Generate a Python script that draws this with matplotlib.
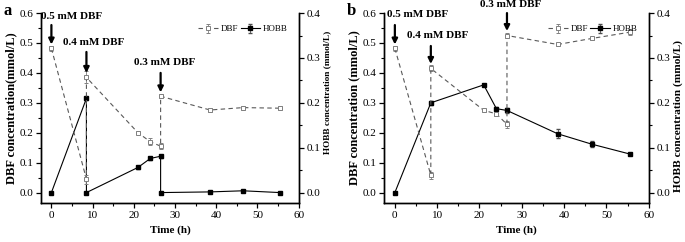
import matplotlib.pyplot as plt
from matplotlib.ticker import MultipleLocator

plt.rcParams['font.family'] = ['Liberation Serif', 'DejaVu Serif']
plt.rcParams['font.size'] = 7.5

# panel a
time_dbf_a = [0, 8.5, 8.5, 21, 24, 26.5, 26.5, 38.5, 46.5, 55.5]
dbf_a = [0.482, 0.045, 0.385, 0.2, 0.17, 0.155, 0.322, 0.276, 0.284, 0.282]
dbf_err_a = [0.008, 0.015, 0.02, 0.005, 0.012, 0.01, 0.006, 0.007, 0.007, 0.006]
time_hobb_a = [0, 8.5, 8.5, 21, 24, 26.5, 26.5, 38.5, 46.5, 55.5]
hobb_a = [0.0, 0.21, 0.0, 0.056, 0.076, 0.081, 0.0, 0.0015, 0.004, 0.0]
hobb_err_a = [0.002, 0.004, 0.002, 0.003, 0.003, 0.003, 0.002, 0.002, 0.002, 0.002]

# panel b
time_dbf_b = [0, 8.5, 8.5, 21, 24, 26.5, 26.5, 38.5, 46.5, 55.5]
dbf_b = [0.482, 0.058, 0.415, 0.275, 0.263, 0.228, 0.525, 0.495, 0.515, 0.536]
dbf_err_b = [0.008, 0.012, 0.01, 0.006, 0.006, 0.012, 0.008, 0.005, 0.005, 0.01]
time_hobb_b = [0, 8.5, 21, 24, 26.5, 38.5, 46.5, 55.5]
hobb_b = [0.0, 0.2, 0.24, 0.187, 0.183, 0.131, 0.108, 0.086]
hobb_err_b = [0.002, 0.004, 0.003, 0.004, 0.006, 0.01, 0.007, 0.003]

doses = ["0.5 mM DBF", "0.4 mM DBF", "0.3 mM DBF"]
dose_times = [0, 8.5, 26.5]
# (text x, text y, arrow start y, arrow end y) per dose
ann_a = [(5, 0.59, 0.56, 0.495), (10.2, 0.503, 0.47, 0.40), (27.4, 0.435, 0.40, 0.335)]
ann_b = [(5.4, 0.594, 0.56, 0.495), (10.1, 0.525, 0.49, 0.43), (27.4, 0.63, 0.60, 0.54)]

fig = plt.figure(figsize=(6.85, 2.42), dpi=100)


def panel(rect, letter, tx, dbf, derr, th, hobb, herr, ann, ylab, rsize, rpos):
    ax = fig.add_axes(rect)
    ax2 = ax.twinx()
    ax.set_zorder(ax2.get_zorder() + 1)
    ax.patch.set_visible(False)
    ax.errorbar(tx, dbf, yerr=derr, color='0.35', ls=(0, (4, 3)), lw=0.8,
                marker='s', ms=3, mfc='white', mec='0.5', mew=0.7,
                ecolor='0.5', elinewidth=0.6, capsize=1.3, label='DBF')
    ax2.errorbar(th, hobb, yerr=herr, color='black', ls='-', lw=0.8,
                 marker='s', ms=3, mfc='black', mec='black',
                 ecolor='0.3', elinewidth=0.6, capsize=1.3, label='HOBB')
    ax.set_xlim(-2.5, 60)
    ax.set_ylim(-0.035, 0.6)
    ax2.set_ylim(-0.0233, 0.4)
    ax.xaxis.set_major_locator(MultipleLocator(10))
    ax.xaxis.set_minor_locator(MultipleLocator(5))
    ax.yaxis.set_major_locator(MultipleLocator(0.1))
    ax.yaxis.set_minor_locator(MultipleLocator(0.05))
    ax.yaxis.set_major_formatter('{x:.1f}')
    ax2.yaxis.set_major_locator(MultipleLocator(0.1))
    ax2.yaxis.set_minor_locator(MultipleLocator(0.05))
    ax2.yaxis.set_major_formatter('{x:.1f}')
    for a in (ax, ax2):
        a.spines['top'].set_visible(False)
        for s in a.spines.values():
            s.set_linewidth(1.0)
        a.tick_params(which='major', length=3.5, width=0.9, labelsize=8, pad=2)
        a.tick_params(which='minor', length=2, width=0.8)
    ax.set_xlabel('Time (h)', fontweight='bold', fontsize=8)
    ax.set_ylabel(ylab, fontweight='bold', fontsize=9, labelpad=2)
    ax2.set_ylabel('HOBB concentration (mmol/L)', fontweight='bold', fontsize=rsize)
    ax2.yaxis.set_label_coords(rpos[0], rpos[1])
    for d, t, (x, y, y0, y1) in zip(doses, dose_times, ann):
        ax.text(x, y, d, ha='center', va='center', fontweight='bold', fontsize=8,
                clip_on=False)
        ax.annotate('', xy=(t, y1), xytext=(t, y0),
                    arrowprops=dict(arrowstyle='-|>', color='black', lw=1.6,
                                    mutation_scale=8, shrinkA=0, shrinkB=0))
    h1, l1 = ax.get_legend_handles_labels()
    h2, l2 = ax2.get_legend_handles_labels()
    ax.legend(h1 + h2, l1 + l2, loc='upper right', ncol=2, frameon=False,
              fontsize=6.5, handlelength=2.2, handletextpad=0.3, columnspacing=0.3,
              bbox_to_anchor=(0.99, 0.98))
    fig.text(rect[0] - 0.055, 0.955, letter, fontweight='bold', fontsize=12,
             ha='left', va='center')


panel([0.06, 0.161, 0.376, 0.785], 'a', time_dbf_a, dbf_a, dbf_err_a,
      time_hobb_a, hobb_a, hobb_err_a, ann_a, 'DBF concentration(mmol/L)',
      6.7, (1.095, 0.58))
panel([0.561, 0.161, 0.386, 0.785], 'b', time_dbf_b, dbf_b, dbf_err_b,
      time_hobb_b, hobb_b, hobb_err_b, ann_b, 'DBF concentration (mmol/L)',
      8.2, (1.094, 0.46))

fig.savefig('out.png', dpi=100)
